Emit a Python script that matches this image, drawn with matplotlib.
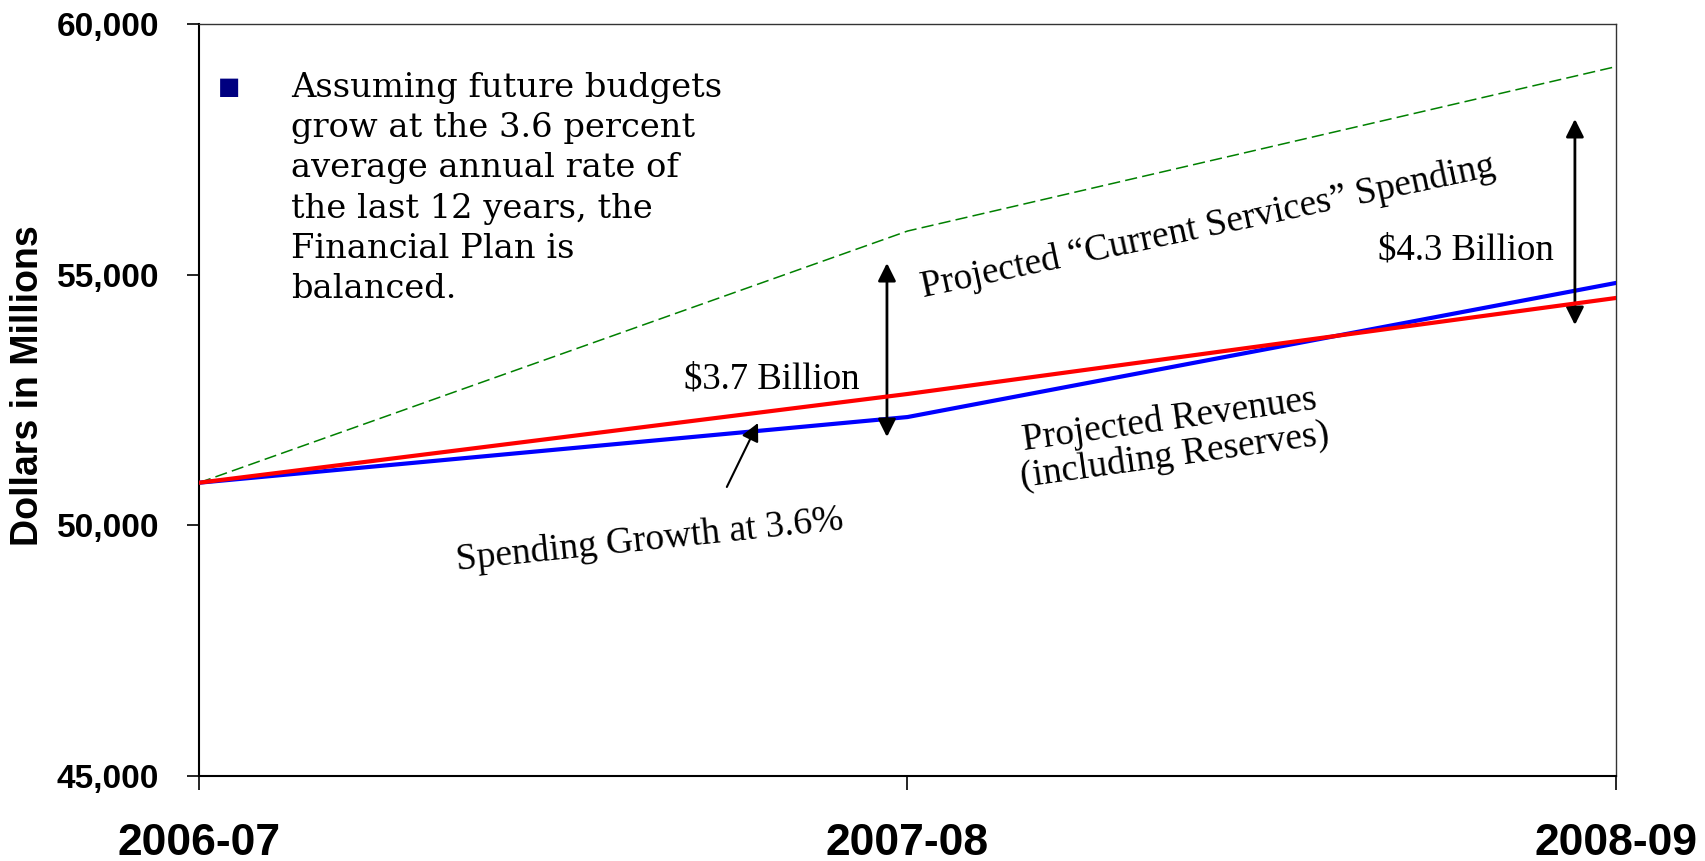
import matplotlib
matplotlib.use("Agg")
import matplotlib.pyplot as plt
from matplotlib.ticker import FuncFormatter

# fiscal years and projections, $ millions
years = ["2006-07", "2007-08", "2008-09"]
current_services = [50850, 55870, 59150]
revenues = [50850, 52620, 54535]
spending_36 = [50850, 52160, 54835]

# gap arrows: x position (category index), low end, high end
gap_x = [0.971, 1.942]
gap_low = [51762, 53996]
gap_high = [55232, 58105]
gap_labels = ["$3.7 Billion", "$4.3 Billion"]

note_lines = ["Assuming future budgets",
              "grow at the 3.6 percent",
              "average annual rate of",
              "the last 12 years, the",
              "Financial Plan is",
              "balanced."]

SERIF = "Liberation Serif"
SANS = "Liberation Sans"
W, H = 1706, 861

fig = plt.figure(figsize=(W / 100, H / 100), dpi=100)
ax = fig.add_axes([199 / W, 85 / H, 1417 / W, 752 / H])

x = list(range(len(years)))
ax.plot(x, current_services, color="#008000", lw=1.1, dashes=(8, 3.4), zorder=2)
ax.plot(x, spending_36, color="#0000ff", lw=3.0, zorder=3)
ax.plot(x, revenues, color="#ff0000", lw=3.0, zorder=4)

ax.set_xlim(0, 2)
ax.set_ylim(45000, 60000)
ax.set_xticks(x)
ax.set_xticklabels(years, fontfamily=SANS, fontweight="bold", fontsize=32)
ax.set_yticks([45000, 50000, 55000, 60000])
ax.yaxis.set_major_formatter(FuncFormatter(lambda v, p: f"{int(v):,}"))
for lab in ax.get_yticklabels():
    lab.set_fontfamily(SANS)
    lab.set_fontweight("bold")
    lab.set_fontsize(24)
ax.tick_params(axis="y", direction="out", length=8.6, width=1.2, pad=20)
ax.tick_params(axis="x", direction="out", length=10, width=1.2, pad=24)
for side in ["left", "bottom"]:
    ax.spines[side].set_linewidth(1.5)
for side in ["top", "right"]:
    ax.spines[side].set_linewidth(1.0)
    ax.spines[side].set_color("#333333")

fig.text(28 / W, 1 - 386 / H, "Dollars in Millions", rotation=90,
         ha="center", va="center", fontfamily=SANS, fontweight="bold", fontsize=27)

# gap arrows and their labels
for gx, lo, hi in zip(gap_x, gap_low, gap_high):
    ax.annotate("", xy=(gx, hi), xytext=(gx, lo),
                arrowprops=dict(arrowstyle="<|-|>", color="black", lw=2,
                                mutation_scale=27, shrinkA=0, shrinkB=0))
ax.text(0.809, 52739, gap_labels[0], ha="center", va="baseline",
        fontfamily=SERIF, fontsize=26.5)
ax.text(1.788, 55293, gap_labels[1], ha="center", va="baseline",
        fontfamily=SERIF, fontsize=26.5)

ax.text(1.424, 55951, "Projected \u201cCurrent Services\u201d Spending",
        rotation=12, rotation_mode="anchor", ha="center", va="center",
        fontfamily=SERIF, fontsize=27)
ax.text(1.373, 51742, "Projected Revenues\n(including Reserves)",
        rotation=8, rotation_mode="anchor", ha="center", va="center",
        fontfamily=SERIF, fontsize=27, linespacing=1.05)
ax.text(0.636, 49707, "Spending Growth at 3.6%",
        rotation=6, rotation_mode="anchor", ha="center", va="center",
        fontfamily=SERIF, fontsize=27)
ax.annotate("", xy=(0.789, 52041), xytext=(0.745, 50765),
            arrowprops=dict(arrowstyle="-|>", color="black", lw=1.5,
                            mutation_scale=27, shrinkA=0, shrinkB=0))

# bulleted note in the upper left, one baseline per line
fig.text(229 / W, 1 - 87 / H, "\u25a0", color="#000080", fontsize=17,
         ha="center", va="center", fontfamily="DejaVu Sans")
for i, line in enumerate(note_lines):
    fig.text(291 / W, 1 - (97 + 40.2 * i) / H, line, ha="left", va="baseline",
             fontfamily="DejaVu Serif", fontsize=24.3)

fig.savefig("out.png", dpi=100)
